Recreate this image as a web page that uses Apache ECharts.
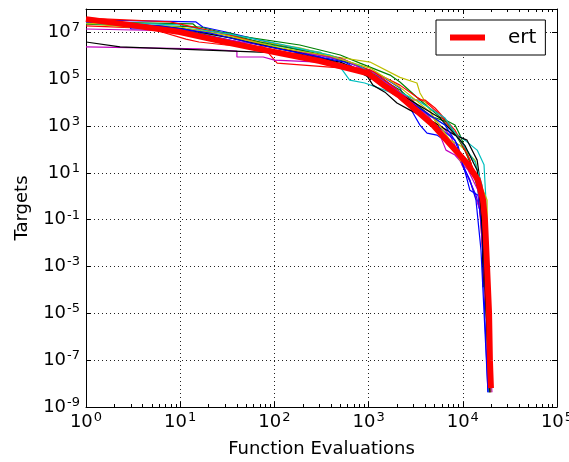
<!DOCTYPE html>
<html>
<head>
<meta charset="utf-8">
<script src="https://cdn.jsdelivr.net/npm/echarts@6/dist/echarts.min.js"></script>
<style>
  html, body { margin: 0; padding: 0; background: #fff; }
  #chart { width: 569px; height: 462px; }
</style>
</head>
<body>
<div id="chart"></div>
<script>
// each run: [function evaluations, target reached]
var run01 = [[1,3.4e7],[14.7,2.8e7],[17.4,1.7e7],[30.6,1.04e7],[70,4.7e6],[186,1.8e6],[500,6.6e5],[990,2.5e5],[1320,1.5e5],[2150,4.2e4],[2960,3.6e3],[3510,1.1e3],[4170,500],[5320,410],[8890,94],[9340,35],[1.11e4,8.1],[1.38e4,1.1],[1.56e4,0.16],[1.64e4,1.9e-3],[1.72e4,5.1e-6],[1.85e4,4.3e-9]];
var run02 = [[1,2.8e7],[13.7,2.3e7],[16.6,1.15e7],[33.8,9.4e6],[43,7.0e6],[186,2.9e6],[500,1.08e6],[810,4.9e5],[1690,1.5e5],[2150,7.6e4],[3510,1.3e4],[5730,2.4e3],[8260,1.1e3],[9340,410],[1.19e4,35],[1.45e4,1.8],[1.56e4,0.096],[1.76e4,3.7e-5],[1.90e4,5.2e-9]];
var run03 = [[1,1.9e7],[4.7,1.5e7],[11.5,5.2e6],[15.8,3.9e6],[30.6,2.9e6],[76,2.4e6],[107,4.9e5],[388,3.3e5],[1035,2.5e5],[2150,5.6e4],[3260,1.7e4],[4170,9.6e3],[5730,3.0e3],[9340,250],[1.19e4,35],[1.45e4,3.0],[1.60e4,0.013],[1.81e4,1.9e-6],[1.94e4,5.2e-9]];
var run04 = [[1,2.8e7],[9.9,2.1e7],[33.8,7.7e6],[90,2.9e6],[304,1.45e6],[500,3.3e5],[630,9.2e4],[910,6.9e4],[1690,2.8e4],[3510,4.8e3],[6470,1.1e3],[1.05e4,250],[1.42e4,94],[1.68e4,22],[1.76e4,0.69],[1.85e4,3.7e-5],[1.94e4,4.3e-9]];
var run05 = [[1,2.4e6],[16.2,2.0e6],[40,1.6e6],[40,8.9e5],[76,8.9e5],[100,6.6e5],[304,5.4e5],[1035,2.5e5],[2150,2.8e4],[4490,3.0e3],[7310,410],[8260,150],[9810,22],[1.19e4,4.9],[1.52e4,0.26],[1.76e4,3.7e-5],[2.04e4,4.3e-9]];
var run06 = [[1,2.3e7],[4.7,1.5e7],[16.2,9.4e6],[55,4.7e6],[186,2.2e6],[460,8.9e5],[1035,5.4e5],[2150,1.2e5],[3260,6.9e4],[3510,2.6e4],[4490,4.8e3],[5730,550],[7310,250],[9340,150],[1.35e4,35],[1.56e4,3.0],[1.81e4,0.69],[1.85e4,3.7e-5],[1.99e4,4.3e-9]];
var run07 = [[1,3.9e6],[2.3,2.4e6],[16.2,1.8e6],[70,1.45e6],[186,1.2e6],[500,5.4e5],[910,2.0e5],[1110,5.6e4],[1490,2.8e4],[2000,9.6e3],[2750,4.8e3],[4490,1.8e3],[8260,410],[1.11e4,250],[1.42e4,35],[1.52e4,4.9],[1.60e4,0.69],[1.64e4,1.3e-4]];
var run08 = [[1,3.1e7],[2.86,2.3e7],[3.0,1.4e7],[9.7,1.4e7],[33.8,4.7e6],[114,1.45e6],[388,6.6e5],[990,1.4e5],[1690,3.5e4],[2150,1.7e4],[3110,4.0e3],[5730,820],[8260,250],[9340,58],[1.08e4,8.1],[1.19e4,1.8],[1.45e4,1.1],[1.60e4,0.036],[1.76e4,3.7e-5],[1.90e4,4.3e-9]];
var run09 = [[1,2.3e7],[16.2,1.7e7],[70,3.9e6],[304,1.2e6],[810,3.7e5],[2150,3.5e4],[4490,2.7e3],[6800,1.5e3],[7870,670],[1.05e4,94],[1.35e4,8.1],[1.56e4,0.69],[1.64e4,0.036],[1.76e4,3.7e-5],[1.90e4,5.2e-9]];
var run10 = [[1,4.1e7],[7.8,2.8e7],[33.8,7.7e6],[114,2.0e6],[500,8.1e5],[1170,2.0e5],[1910,4.2e4],[2750,1.3e4],[3970,1.3e4],[5070,5.9e3],[8260,670],[1.19e4,35],[1.52e4,1.8],[1.68e4,0.036],[1.85e4,5.1e-6],[1.94e4,4.3e-9]];
var run11 = [[1,2.5e7],[3.7,1.9e7],[16.2,1.3e7],[33.8,8.5e6],[114,3.2e6],[388,1.08e6],[810,3.7e5],[1910,3.5e4],[3510,1.06e4],[6470,2.2e3],[9340,250],[1.35e4,29],[1.60e4,3.0],[1.72e4,0.013],[1.90e4,4.3e-9]];
var run12 = [[1,1.4e7],[9.9,1.15e7],[33.8,4.7e6],[70,2.9e6],[186,1.45e6],[560,6.6e5],[1320,1.1e5],[2750,1.3e4],[4490,2.2e3],[5730,410],[6630,94],[8260,58],[1.14e4,13],[1.45e4,1.8],[1.72e4,0.013],[1.99e4,4.3e-9]];
var run13 = [[1,2.5e7],[9.9,1.7e7],[29.8,7.7e6],[114,2.2e6],[388,9.8e5],[1035,3.0e5],[2150,4.6e4],[4490,4.0e3],[7310,250],[9340,35],[1.38e4,8.1],[1.60e4,0.69],[1.76e4,1.9e-3],[1.94e4,4.3e-9]];
var run14 = [[1,3.4e7],[9.9,1.5e7],[33.8,5.8e6],[90,2.4e6],[304,8.9e5],[630,3.3e5],[1320,6.9e4],[2750,1.3e4],[5730,2.2e3],[1.05e4,150],[1.42e4,13],[1.56e4,0.26],[1.68e4,1.9e-3],[1.81e4,1.9e-6],[1.94e4,4.3e-9]];
var run15 = [[1,2.8e7],[6.1,1.9e7],[20.7,9.4e6],[70,2.9e6],[186,1.3e6],[560,5.4e5],[1170,9.2e4],[2150,2.1e4],[3970,4.0e3],[6470,1.1e3],[8890,150],[1.0e4,22],[1.19e4,4.9],[1.38e4,0.69],[1.56e4,5.0e-3],[1.85e4,4.3e-9]];

// expected running time curve
var ertData = [[1,3.7e7],[2.9,2.1e7],[9.9,1.04e7],[33.8,3.5e6],[100,1.45e6],[304,6.0e5],[990,1.8e5],[1490,5.1e4],[2150,1.9e4],[4830,1.1e3],[1.11e4,26],[1.45e4,4.9],[1.64e4,0.69],[1.72e4,0.096],[1.81e4,9.4e-4],[1.90e4,1.0e-5],[1.94e4,1.0e-7],[1.99e4,6.4e-9]];

var runList = [run01, run02, run03, run04, run05, run06, run07, run08, run09, run10, run11, run12, run13, run14, run15];
// matplotlib classic colour cycle b g r c m y k
var runColors = ['#0000ff', '#008000', '#ff0000', '#00bfbf', '#bf00bf', '#bfbf00', '#000000'];

var FONT = 'DejaVu Sans';

function expOf(v) {
  return Math.round(Math.log(v) / Math.LN10);
}

var powRich = {
  b: { fontFamily: FONT, fontSize: 18, color: '#000' },
  e: { fontFamily: FONT, fontSize: 13, color: '#000', padding: [0, 0, 9, 1] }
};

var chart = echarts.init(document.getElementById('chart'), null, { renderer: 'canvas' });

var series = [];
for (var i = 0; i < runList.length; i++) {
  series.push({
    name: 'run' + (i + 1),
    type: 'line',
    data: runList[i],
    symbol: 'none',
    silent: true,
    lineStyle: { width: 1.2, color: runColors[i % runColors.length] },
    z: 2
  });
}
series.push({
  name: 'ert',
  type: 'line',
  data: ertData,
  symbol: 'none',
  silent: true,
  itemStyle: { color: '#ff0000' },
  lineStyle: { width: 6, color: '#ff0000' },
  z: 5
});

var tickStyle = { color: '#000', width: 1 };

chart.setOption({
  animation: false,
  backgroundColor: '#fff',
  grid: { left: 86, right: 12, top: 9, bottom: 55, containLabel: false, outerBoundsMode: 'none' },
  legend: {
    data: [{ name: 'ert', icon: 'rect' }],
    left: 436,
    top: 20,
    itemWidth: 35,
    itemHeight: 6,
    itemGap: 0,
    padding: [7, 9, 7, 14],
    borderColor: '#000',
    borderWidth: 1,
    borderRadius: 0,
    backgroundColor: '#fff',
    textStyle: { fontFamily: FONT, fontSize: 20, color: '#000', padding: [0, 0, 0, 18], lineHeight: 21 }
  },
  xAxis: [
    {
      type: 'log', logBase: 10, min: 1, max: 1e5, interval: 1,
      position: 'bottom',
      name: 'Function Evaluations',
      nameLocation: 'middle',
      nameGap: 33,
      nameTextStyle: { fontFamily: FONT, fontSize: 18, color: '#000' },
      axisLine: { show: true, lineStyle: tickStyle },
      axisTick: { show: true, inside: true, length: 5, lineStyle: tickStyle },
      minorTick: { show: true, splitNumber: 9, length: 3, lineStyle: tickStyle },
      axisLabel: {
        margin: 4,
        formatter: function (v) { return '{b|10}{e|' + expOf(v) + '}'; },
        rich: powRich
      },
      splitLine: { show: true, lineStyle: { color: '#222', width: 1, type: [1, 3] } }
    },
    {
      type: 'log', logBase: 10, min: 1, max: 1e5, interval: 1,
      position: 'top',
      axisLine: { show: true, lineStyle: tickStyle },
      axisTick: { show: true, inside: true, length: 5, lineStyle: tickStyle },
      minorTick: { show: true, splitNumber: 9, length: 3, lineStyle: tickStyle },
      axisLabel: { show: false },
      splitLine: { show: false }
    }
  ],
  yAxis: [
    {
      type: 'log', logBase: 10, min: 1e-9, max: 1e8, interval: 2,
      position: 'left',
      name: 'Targets',
      nameLocation: 'middle',
      nameGap: 55,
      nameTextStyle: { fontFamily: FONT, fontSize: 18, color: '#000' },
      axisLine: { show: true, lineStyle: tickStyle },
      axisTick: { show: true, inside: true, length: 5, lineStyle: tickStyle },
      axisLabel: {
        margin: 6,
        formatter: function (v) {
          var e = expOf(v);
          if (Math.abs(e % 2) !== 1) return '';
          return '{b|10}{e|' + e + '}';
        },
        rich: powRich
      },
      splitLine: { show: true, lineStyle: { color: '#222', width: 1, type: [1, 3] } }
    },
    {
      type: 'log', logBase: 10, min: 1e-9, max: 1e8, interval: 2,
      position: 'right',
      axisLine: { show: true, lineStyle: tickStyle },
      axisTick: { show: true, inside: true, length: 5, lineStyle: tickStyle },
      axisLabel: { show: false },
      splitLine: { show: false }
    }
  ],
  series: series
});
</script>
</body>
</html>
